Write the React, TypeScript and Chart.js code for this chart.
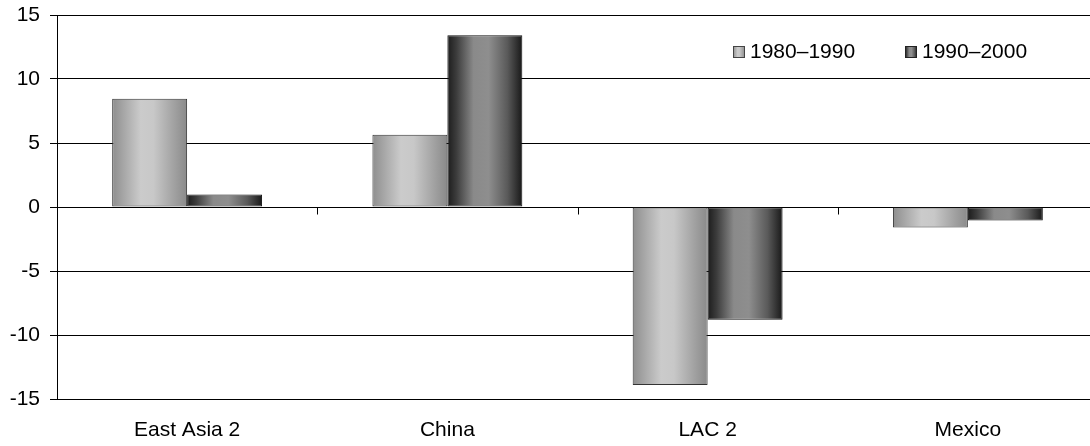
import React, { useEffect, useRef } from "react";
import { Chart, registerables } from "chart.js";

Chart.register(...registerables);

const categories = ["East Asia 2", "China", "LAC 2", "Mexico"];
const seriesNames = ["1980–1990", "1990–2000"];
const series1980 = [8.45, 5.65, -13.9, -1.6];
const series1990 = [0.97, 13.42, -8.8, -1.05];
const yTicks = [-15, -10, -5, 0, 5, 10, 15];

const FONT = "'Liberation Sans', Arial, sans-serif";
const CAT_PCT = 0.576;

const lightStops: [number, string][] = [
  [0, "#8e8e8e"],
  [0.15, "#a6a6a6"],
  [0.38, "#cbcbcb"],
  [0.55, "#c8c8c8"],
  [0.82, "#a2a2a2"],
  [1, "#8a8a8a"],
];
const darkStops: [number, string][] = [
  [0, "#1c1c1c"],
  [0.12, "#3c3c3c"],
  [0.35, "#8a8a8a"],
  [0.55, "#8e8e8e"],
  [0.8, "#5a5a5a"],
  [1, "#181818"],
];

function makeGrad(ctx: CanvasRenderingContext2D, x0: number, x1: number, stops: [number, string][]) {
  const g = ctx.createLinearGradient(x0, 0, x1, 0);
  stops.forEach(([o, c]) => g.addColorStop(o, c));
  return g;
}

function barFill(stops: [number, string][], dsIndex: number, fallback: string) {
  return (c: any) => {
    const chart = c.chart;
    const xs = chart.scales && chart.scales.x;
    if (!xs || c.dataIndex === undefined || !isFinite(xs.width) || xs.width <= 0) return fallback;
    const center = xs.getPixelForValue(c.dataIndex);
    const cw = xs.width / categories.length;
    const bw = cw * CAT_PCT / 2;
    const left = dsIndex === 0 ? center - bw : center;
    return makeGrad(chart.ctx, left, left + bw, stops);
  };
}

const zeroTicksPlugin = {
  id: "zeroTicks",
  afterDatasetsDraw(chart: any) {
    const xs = chart.scales.x;
    const ys = chart.scales.y;
    const y0 = Math.round(ys.getPixelForValue(0)) + 0.5;
    const ctx = chart.ctx;
    ctx.save();
    ctx.strokeStyle = "#000";
    ctx.lineWidth = 1;
    for (let i = 1; i < categories.length; i++) {
      const x = Math.round((xs.getPixelForValue(i - 1) + xs.getPixelForValue(i)) / 2) + 0.5;
      ctx.beginPath();
      ctx.moveTo(x, y0);
      ctx.lineTo(x, y0 + 7);
      ctx.stroke();
    }
    ctx.restore();
  },
};

const legendPlugin = {
  id: "customLegend",
  afterDraw(chart: any) {
    const ctx = chart.ctx;
    const items = [
      { x: 733, label: seriesNames[0], stops: lightStops, border: "#444" },
      { x: 905, label: seriesNames[1], stops: darkStops, border: "#222" },
    ];
    const y = 46;
    const s = 12;
    ctx.save();
    items.forEach((it) => {
      ctx.fillStyle = makeGrad(ctx, it.x, it.x + s, it.stops);
      ctx.fillRect(it.x, y, s, s);
      ctx.strokeStyle = it.border;
      ctx.lineWidth = 1;
      ctx.strokeRect(it.x + 0.5, y + 0.5, s - 1, s - 1);
      ctx.fillStyle = "#000";
      ctx.font = `21px ${FONT}`;
      ctx.textBaseline = "middle";
      ctx.textAlign = "left";
      ctx.fillText(it.label, it.x + s + 5, y + s / 2);
    });
    ctx.restore();
  },
};

export default function App() {
  const ref = useRef<HTMLCanvasElement | null>(null);

  useEffect(() => {
    document.body.style.margin = "0";
    const canvas = ref.current;
    if (!canvas) return;
    const chart = new Chart(canvas, {
      type: "bar",
      data: {
        labels: categories,
        datasets: [
          {
            label: seriesNames[0],
            data: series1980,
            backgroundColor: barFill(lightStops, 0, "#b0b0b0"),
            borderColor: "#333",
            borderWidth: 1,
            borderSkipped: false,
            categoryPercentage: CAT_PCT,
            barPercentage: 1,
          },
          {
            label: seriesNames[1],
            data: series1990,
            backgroundColor: barFill(darkStops, 1, "#555"),
            borderColor: "#111",
            borderWidth: 1,
            borderSkipped: false,
            categoryPercentage: CAT_PCT,
            barPercentage: 1,
          },
        ],
      },
      options: {
        animation: false,
        responsive: false,
        devicePixelRatio: 1,
        layout: { padding: { top: 15, left: 0, right: 0, bottom: 0 } },
        plugins: {
          legend: { display: false },
          tooltip: { enabled: false },
        },
        scales: {
          x: {
            grid: { display: false, drawTicks: false },
            border: { display: false },
            ticks: {
              color: "#000",
              font: { family: FONT, size: 21 },
              padding: 19,
              maxRotation: 0,
            },
            afterFit: (s: any) => {
              s.height = 47;
              s.paddingLeft = 0;
              s.paddingRight = 0;
            },
          },
          y: {
            min: yTicks[0],
            max: yTicks[yTicks.length - 1],
            afterBuildTicks: (s: any) => {
              s.ticks = yTicks.map((v) => ({ value: v }));
            },
            grid: { color: "#000", lineWidth: 1, tickLength: 7, tickColor: "#000" },
            border: { display: true, color: "#000", width: 1 },
            ticks: {
              color: "#000",
              font: { family: FONT, size: 21 },
              padding: 10,
              callback: (v: any) => String(v),
            },
            afterFit: (s: any) => {
              s.width = 57;
              s.paddingTop = 0;
              s.paddingBottom = 0;
            },
          },
        },
      },
      plugins: [zeroTicksPlugin, legendPlugin],
    });
    return () => chart.destroy();
  }, []);

  return (
    <div style={{ position: "absolute", left: 0, top: 0, width: 1090, height: 446, overflow: "hidden", background: "#fff" }}>
      <canvas ref={ref} width={1098} height={446} style={{ display: "block" }} />
    </div>
  );
}
